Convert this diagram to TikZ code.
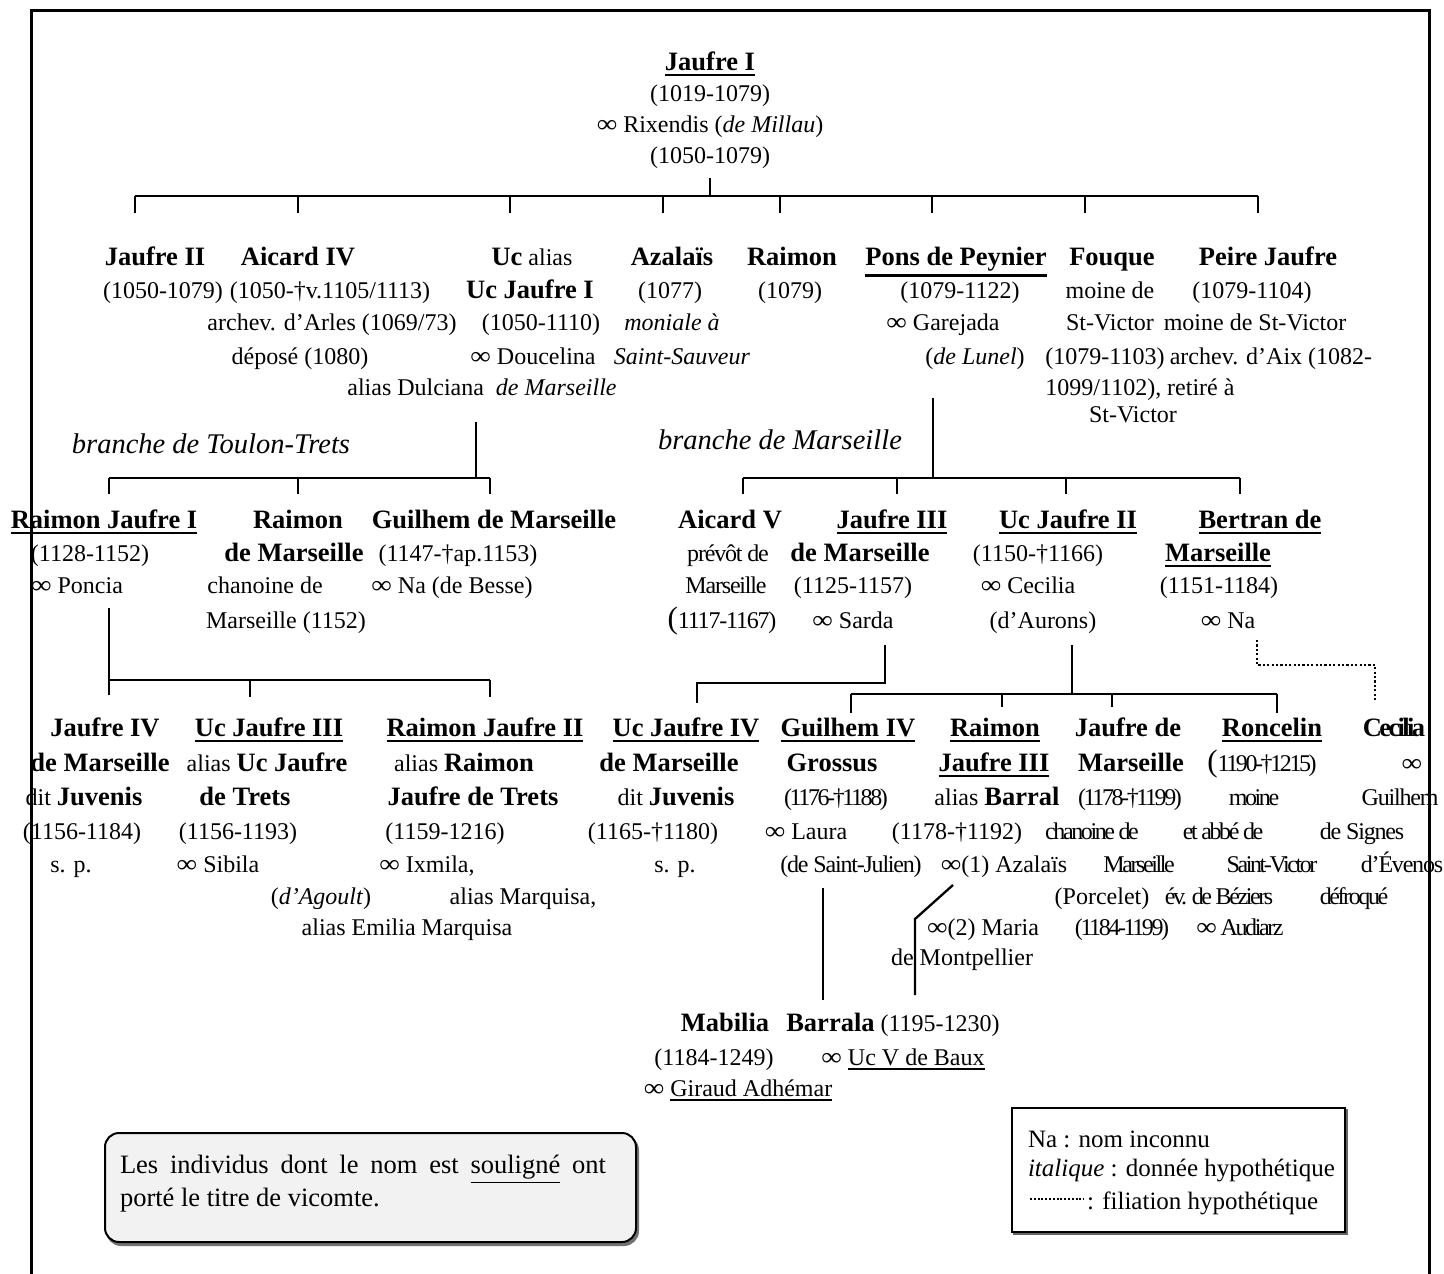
\documentclass[tikz,border=0pt]{standalone}
\usepackage{graphicx}
\usepackage{fontspec}
\setmainfont{Liberation Serif}
\newfontfamily\tightfont[LetterSpace=-10]{Liberation Serif}
\newfontfamily\halftightfont[LetterSpace=-5]{Liberation Serif}
% underline drawn as a rule below the text box
\newcommand\uln[1]{\vtop{\hbox{#1}\kern 3.5pt\hrule height 2.5pt}}
\newcommand\ulthin[1]{\vtop{\hbox{#1}\kern 3pt\hrule height 1.6pt}}
% name in bold, slightly larger than the body text
\newcommand\nm[1]{{\fontsize{26.5}{30}\selectfont\bfseries #1}}
% underlined name (bore the title of viscount)
\newcommand\unm[1]{{\fontsize{26.5}{30}\selectfont\bfseries\uln{#1}}}
\newcommand\bigparen{{\rmfamily\fontsize{31}{31}\selectfont(}}
% marriage sign
\newcommand\mar{\scalebox{1.2}[1.05]{∞}}
\tikzset{
  ln/.style={inner sep=0pt, outer sep=0pt, anchor=base,
    font=\rmfamily\fontsize{24}{28}\selectfont},
  tl/.style={ln, font=\tightfont\fontsize{24}{28}\selectfont},
  ht/.style={ln, font=\halftightfont\fontsize{24}{28}\selectfont},
  branch/.style={ln, font=\rmfamily\itshape\fontsize{28.5}{32}\selectfont},
  wire/.style={line width=2.3pt},
  hyp/.style={line width=2.4pt, dash pattern=on 2.2pt off 2.2pt},
  frame/.style={line width=3pt},
  notebox/.style={rounded corners=14pt, minimum width=531pt, minimum height=109pt,
    inner sep=0pt, line width=2pt},
  keybox/.style={minimum width=333pt, minimum height=124pt, inner sep=0pt,
    line width=2.2pt},
}
\begin{document}
\begin{tikzpicture}[x=1pt,y=-1pt]
\path[use as bounding box] (0,0) rectangle (1444,1274);

% ---------------- generation 1
\node[ln] (t1) at (710,70) {\unm{Jaufre I}};
\node[ln] (t2) at (710,101) {(1019-1079)};
\node[ln] (t3) at (710,132) {\mar\ Rixendis (\textit{de Millau})};
\node[ln] (t4) at (710,163) {(1050-1079)};

% ---------------- generation 2
\node[ln] (j2a) at (155,265) {\nm{Jaufre II}};
\node[ln] (j2b) at (163,298) {(1050-1079)};
\node[ln] (a4a) at (298,265) {\nm{Aicard IV}};
\node[ln] (a4b) at (330,298) {(1050-†v.1105/1113)};
\node[ln] (a4c) at (332,330) {archev. d’Arles (1069/73)};
\node[ln] (a4d) at (300,364) {déposé (1080)};
\node[ln] (uca) at (532,265) {\nm{Uc} alias};
\node[ln] (ucb) at (530,298) {\nm{Uc Jaufre I}};
\node[ln] (ucc) at (541,330) {(1050-1110)};
\node[ln] (ucd) at (533,364) {\mar\ Doucelina};
\node[ln] (uce) at (482,395) {alias Dulciana\ \ \textit{de Marseille}};
\node[ln] (aza) at (672,265) {\nm{Azalaïs}};
\node[ln] (azb) at (670,298) {(1077)};
\node[ln] (azc) at (672,330) {\textit{moniale à}};
\node[ln] (azd) at (682,364) {\textit{Saint-Sauveur}};
\node[ln] (rma) at (792,265) {\nm{Raimon}};
\node[ln] (rmb) at (790,298) {(1079)};
\node[ln] (pna) at (956,265) {\unm{Pons de Peynier}};
\node[ln] (pnb) at (960,298) {(1079-1122)};
\node[ln] (pnc) at (943,330) {\mar\ Garejada};
\node[ln] (pnd) at (975,364) {(\textit{de Lunel})};
\node[ln] (foa) at (1112,265) {\nm{Fouque}};
\node[ln] (fob) at (1110,298) {moine de};
\node[ln] (foc) at (1110,330) {St-Victor};
\node[ln] (fod) at (1105,364) {(1079-1103)};
\node[ln] (pja) at (1268,265) {\nm{Peire Jaufre}};
\node[ln] (pjb) at (1252,298) {(1079-1104)};
\node[ln] (pjc) at (1255,330) {moine de St-Victor};
\node[ln] (pjd) at (1271,364) {archev. d’Aix (1082-};
\node[ln] (pje) at (1140,395) {1099/1102), retiré à};
\node[ln] (pjf) at (1133,422) {St-Victor};

\node[branch] (brt) at (211,453) {branche de Toulon-Trets};
\node[branch] (brm) at (780,449) {branche de Marseille};

% ---------------- generation 3, Toulon-Trets
\node[ln] (rj1a) at (104,528) {\unm{Raimon Jaufre I}};
\node[ln] (rj1b) at (90,561) {(1128-1152)};
\node[ln] (rj1c) at (77,593) {\mar\ Poncia};
\node[ln] (rdma) at (298,528) {\nm{Raimon}};
\node[ln] (rdmb) at (294,561) {\nm{de Marseille}};
\node[ln] (rdmc) at (265,593) {chanoine de};
\node[ln] (rdmd) at (286,628) {Marseille (1152)};
\node[ln] (gma) at (494,528) {\nm{Guilhem de Marseille}};
\node[ln] (gmb) at (458,561) {(1147-†ap.1153)};
\node[ln] (gmc) at (452,593) {\mar\ Na (de Besse)};

% ---------------- generation 3, Marseille
\node[ln] (a5a) at (730,528) {\nm{Aicard V}};
\node[ht] (a5b) at (728,561) {prévôt de};
\node[ht] (a5c) at (726,593) {Marseille};
\node[ht] (a5d) at (722,628) {\bigparen 1117-1167)};
\node[ln] (jf3a) at (892,528) {\unm{Jaufre III}};
\node[ln] (jf3b) at (860,561) {\nm{de Marseille}};
\node[ln] (jf3c) at (853,593) {(1125-1157)};
\node[ln] (jf3d) at (853,628) {\mar\ Sarda};
\node[ln] (uj2a) at (1068,528) {\unm{Uc Jaufre II}};
\node[ln] (uj2b) at (1038,561) {(1150-†1166)};
\node[ln] (uj2c) at (1028,593) {\mar\ Cecilia};
\node[ln] (uj2d) at (1043,628) {(d’Aurons)};
\node[ln] (bma) at (1260,528) {\unm{Bertran de}};
\node[ln] (bmb) at (1218,561) {\unm{Marseille}};
\node[ln] (bmc) at (1219,593) {(1151-1184)};
\node[ln] (bmd) at (1228,628) {\mar\ Na};

% ---------------- generation 4, Toulon-Trets
\node[ln] (j4a) at (105,736) {\nm{Jaufre IV}};
\node[ln] (j4b) at (100,771) {\nm{de Marseille}};
\node[ln] (j4c) at (84,805) {dit \nm{Juvenis}};
\node[ln] (j4d) at (82,839) {(1156-1184)};
\node[ln] (j4e) at (71,872) {s. p.};
\node[ln] (u3a) at (269,736) {\unm{Uc Jaufre III}};
\node[ln] (u3b) at (267,771) {alias \nm{Uc Jaufre}};
\node[ln] (u3c) at (245,805) {\nm{de Trets}};
\node[ln] (u3d) at (238,839) {(1156-1193)};
\node[ln] (u3e) at (218,872) {\mar\ Sibila};
\node[ln] (u3f) at (321,904) {(\textit{d’Agoult})};
\node[ln] (r2a) at (485,736) {\unm{Raimon Jaufre II}};
\node[ln] (r2b) at (464,771) {alias \nm{Raimon}};
\node[ln] (r2c) at (473,805) {\nm{Jaufre de Trets}};
\node[ln] (r2d) at (445,839) {(1159-1216)};
\node[ln] (r2e) at (427,872) {\mar\ Ixmila,};
\node[ln] (r2f) at (523,904) {alias Marquisa,};
\node[ln] (r2g) at (407,935) {alias Emilia Marquisa};

% ---------------- generation 4, Marseille
\node[ln] (u4a) at (686,736) {\unm{Uc Jaufre IV}};
\node[ln] (u4b) at (669,771) {\nm{de Marseille}};
\node[ln] (u4c) at (676,805) {dit \nm{Juvenis}};
\node[ln] (u4d) at (653,839) {(1165-†1180)};
\node[ln] (u4e) at (675,872) {s. p.};
\node[ln] (g4a) at (848,736) {\unm{Guilhem IV}};
\node[ln] (g4b) at (832,771) {\nm{Grossus}};
\node[tl] (g4c) at (836,805) {(1176-†1188)};
\node[ln] (g4d) at (806,839) {\mar\ Laura};
\node[ht] (g4e) at (851,872) {(de Saint-Julien)};
\node[ln] (r3a) at (995,736) {\unm{Raimon}};
\node[ln] (r3b) at (994,771) {\unm{Jaufre III}};
\node[ln] (r3c) at (997,805) {alias \nm{Barral}};
\node[ln] (r3d) at (957,839) {(1178-†1192)};
\node[ln] (r3e) at (1004,872) {\mar(1) Azalaïs};
\node[ln] (r3f) at (1102,904) {(Porcelet)};
\node[ln] (r3g) at (983,935) {\mar(2) Maria};
\node[ln] (r3h) at (962,965) {de Montpellier};
\node[ln] (jma) at (1128,736) {\nm{Jaufre de}};
\node[ln] (jmb) at (1131,771) {\nm{Marseille}};
\node[tl] (jmc) at (1130,805) {(1178-†1199)};
\node[tl] (jmd) at (1092,839) {chanoine de};
\node[tl] (jme) at (1139,872) {Marseille};
\node[tl] (jmf) at (1122,935) {(1184-1199)};
\node[ln] (rca) at (1272,736) {\unm{Roncelin}};
\node[tl] (rcb) at (1262,771) {\bigparen 1190-†1215)};
\node[tl] (rcc) at (1254,805) {moine};
\node[tl] (rcd) at (1223,839) {et abbé de};
\node[tl] (rce) at (1272,872) {Saint-Victor};
\node[tl] (rcf) at (1219,904) {év. de Béziers};
\node[tl] (rcg) at (1240,935) {\mar\ Audiarz};
\node[tl] (cca) at (1394,736) {\nm{Cecilia}};
\node[ln] (ccb) at (1412,771) {\mar};
\node[ht] (ccc) at (1400,805) {Guilhem};
\node[ht] (ccd) at (1362,839) {de Signes};
\node[ht] (cce) at (1402,872) {d’Évenos};
\node[tl] (ccf) at (1354,904) {défroqué};

% ---------------- generation 5
\node[ln] (mba) at (725,1031) {\nm{Mabilia}};
\node[ln] (mbb) at (714,1065) {(1184-1249)};
\node[ln] (mbc) at (738,1096) {\mar\ \ulthin{Giraud Adhémar}};
\node[ln] (bra) at (893,1031) {\nm{Barrala} (1195-1230)};
\node[ln] (brb) at (903,1065) {\mar\ \ulthin{Uc V de Baux}};

% ---------------- connectors
% children of Jaufre I
\coordinate (s0a) at (710,178);
\coordinate (s0b) at (710,196);
\coordinate (h0l) at (135,196);
\coordinate (h0r) at (1258,196);
\draw[wire] (s0a) -- (s0b);
\draw[wire] (h0l) -- (h0r);
\foreach \x [count=\i] in {135,298,510,663,780,932,1085,1258} {
  \coordinate (k0t\i) at (\x,196);
  \coordinate (k0b\i) at (\x,213);
  \draw[wire] (k0t\i) -- (k0b\i);
}
% children of Uc Jaufre I
\coordinate (s1a) at (476,422);
\coordinate (s1b) at (476,478);
\coordinate (h1l) at (109,478);
\coordinate (h1r) at (490,478);
\draw[wire] (s1a) -- (s1b);
\draw[wire] (h1l) -- (h1r);
\foreach \x [count=\i] in {109,298,490} {
  \coordinate (k1t\i) at (\x,478);
  \coordinate (k1b\i) at (\x,494);
  \draw[wire] (k1t\i) -- (k1b\i);
}
% children of Pons de Peynier
\coordinate (s2a) at (933,398);
\coordinate (s2b) at (933,478);
\coordinate (h2l) at (743,478);
\coordinate (h2r) at (1240,478);
\draw[wire] (s2a) -- (s2b);
\draw[wire] (h2l) -- (h2r);
\foreach \x [count=\i] in {743,897,1066,1240} {
  \coordinate (k2t\i) at (\x,478);
  \coordinate (k2b\i) at (\x,494);
  \draw[wire] (k2t\i) -- (k2b\i);
}
% children of Raimon Jaufre I
\coordinate (s3a) at (109,608);
\coordinate (s3b) at (109,680);
\coordinate (h3r) at (490,680);
\draw[wire] (s3a) -- (s3b) -- (h3r);
\foreach \x/\d [count=\i] in {109/695,250/697,490/697} {
  \coordinate (k3t\i) at (\x,680);
  \coordinate (k3b\i) at (\x,\d);
  \draw[wire] (k3t\i) -- (k3b\i);
}
% child of Jaufre III
\coordinate (s4a) at (885,645);
\coordinate (s4b) at (885,683);
\coordinate (s4c) at (697,683);
\coordinate (s4d) at (697,703);
\draw[wire] (s4a) -- (s4b) -- (s4c) -- (s4d);
% children of Uc Jaufre II
\coordinate (s5a) at (1072,645);
\coordinate (s5b) at (1072,694);
\coordinate (h5l) at (851,694);
\coordinate (h5r) at (1277,694);
\draw[wire] (s5a) -- (s5b);
\draw[wire] (h5l) -- (h5r);
\foreach \x/\d [count=\i] in {851/713,1002/707,1112/707,1277/713} {
  \coordinate (k5t\i) at (\x,694);
  \coordinate (k5b\i) at (\x,\d);
  \draw[wire] (k5t\i) -- (k5b\i);
}
% hypothetical filiation of Cecilia
\coordinate (c6a) at (1257,640);
\coordinate (c6b) at (1257,665);
\coordinate (c6c) at (1375,665);
\coordinate (c6d) at (1375,700);
\draw[hyp] (c6a) -- (c6b) -- (c6c) -- (c6d);
% Mabilia and Barrala
\coordinate (m7a) at (823,888);
\coordinate (m7b) at (823,1000);
\draw[wire] (m7a) -- (m7b);
\coordinate (b7a) at (953,885);
\coordinate (b7b) at (915,919);
\coordinate (b7c) at (915,995);
\draw[wire] (b7a) -- (b7b) -- (b7c);

% ---------------- notes
\node[notebox, fill=black!55, draw=black!55] (nbs) at (372.5,1190.5) {};
\node[notebox, fill=black!5, draw=black] (nb) at (370.5,1187.5) {};
\node[ln, anchor=base west, font=\rmfamily\fontsize{26.5}{30}\selectfont] (nb1) at (120,1173)
  {\makebox[486pt][s]{Les individus dont le nom est \ulthin{souligné} ont}};
\node[ln, anchor=base west, font=\rmfamily\fontsize{26.5}{30}\selectfont] (nb2) at (120,1206)
  {porté le titre de vicomte.};

\node[keybox, fill=black!60, draw=black!60] (kbs) at (1180.5,1172) {};
\node[keybox, fill=white, draw=black] (kb) at (1178.5,1170) {};
\node[ln, anchor=base west, font=\rmfamily\fontsize{25}{29}\selectfont] (kb1) at (1028,1147)
  {Na : nom inconnu};
\node[ln, anchor=base west, font=\rmfamily\fontsize{25}{29}\selectfont] (kb2) at (1028,1176)
  {\textit{italique} : donnée hypothétique};
\coordinate (kdl) at (1030,1199);
\coordinate (kdr) at (1084,1199);
\draw[line width=2.4pt, dash pattern=on 2pt off 1.8pt] (kdl) -- (kdr);
\node[ln, anchor=base west, font=\rmfamily\fontsize{25}{29}\selectfont] (kb3) at (1087,1209)
  {: filiation hypothétique};

% ---------------- outer frame, open at the bottom
\coordinate (fbl) at (31,1274);
\coordinate (ftl) at (31,10);
\coordinate (ftr) at (1429,10);
\coordinate (fbr) at (1429,1274);
\draw[frame] (fbl) -- (ftl) -- (ftr) -- (fbr);
\end{tikzpicture}
\end{document}
